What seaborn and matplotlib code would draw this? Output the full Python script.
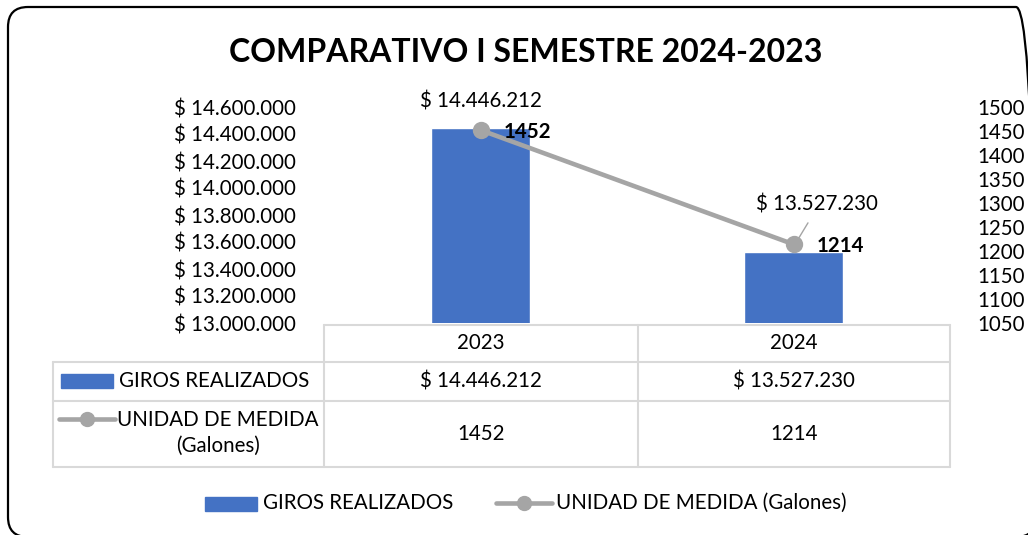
import matplotlib
matplotlib.use("Agg")
import matplotlib.pyplot as plt
import matplotlib.transforms as mtransforms
from matplotlib.patches import FancyBboxPatch, Rectangle
from matplotlib.lines import Line2D
import seaborn as sns
import pandas as pd

# ---------------- data ----------------
years = ["2023", "2024"]
giros = [14446212, 13527230]
galones = [1452, 1214]
left_ticks = [13000000, 13200000, 13400000, 13600000, 13800000,
              14000000, 14200000, 14400000, 14600000]
right_ticks = [1050, 1100, 1150, 1200, 1250, 1300, 1350, 1400, 1450, 1500]
title = "COMPARATIVO I SEMESTRE 2024-2023"
serie_bar = "GIROS REALIZADOS"
serie_line = "UNIDAD DE MEDIDA (Galones)"


def money(v):
    return "$ " + f"{v:,}".replace(",", ".")


sns.set_style("white")
plt.rcParams["font.family"] = ["Lato", "DejaVu Sans"]
plt.rcParams["text.color"] = "black"
plt.rcParams["xtick.color"] = "black"
plt.rcParams["ytick.color"] = "black"

BLUE = "#4472C4"
GRAY = "#A5A5A5"
GRID = "#D9D9D9"
FS = 14.8

W, H = 1028, 535
fig = plt.figure(figsize=(W / 100, H / 100), dpi=100)


def fx(x):
    return x / W


def fy(y):
    return 1 - y / H


df = pd.DataFrame({"year": years, "giros": giros, "galones": galones})

ax = fig.add_axes([fx(324), fy(323), (950 - 324) / W, 216 / H])
sns.barplot(data=df, x="year", y="giros", color=BLUE, saturation=1,
            width=0.316, ax=ax)
ax.set_ylim(left_ticks[0], left_ticks[-1])
ax.set_yticks(left_ticks)
ax.set_yticklabels([money(v) for v in left_ticks], fontsize=FS)
ax.tick_params(axis="y", length=0, pad=20)
ax.set_xticks([])
ax.set_xlabel("")
ax.set_ylabel("")
for s in ax.spines.values():
    s.set_visible(False)

ax2 = ax.twinx()
sns.pointplot(data=df, x="year", y="galones", color=GRAY, ax=ax2,
              markers="o", markersize=10, linewidth=3.3)
ax2.set_ylim(right_ticks[0], right_ticks[-1])
ax2.set_yticks(right_ticks)
ax2.set_yticklabels([str(v) for v in right_ticks], fontsize=FS)
ax2.tick_params(axis="y", length=0, pad=20)
ax2.set_xlim(-0.5, 1.5)
ax2.set_xlabel("")
ax2.set_ylabel("")
for s in ax2.spines.values():
    s.set_visible(False)

# bar data labels
ax.annotate(money(giros[0]), xy=(0, giros[0]), xytext=(0, 26),
            textcoords="offset pixels", ha="center", va="center",
            fontsize=FS, annotation_clip=False)
end_tr = mtransforms.offset_copy(ax.transData, fig=fig, x=3, y=10, units="dots")
ax.annotate(money(giros[1]), xy=(1, giros[1]), xycoords=end_tr,
            xytext=(20, 37), textcoords="offset pixels",
            ha="center", va="center", fontsize=FS, annotation_clip=False,
            arrowprops=dict(arrowstyle="-", color=GRAY, lw=1,
                            relpos=(0.47, 0), shrinkA=4, shrinkB=0))

# line data labels
for i, v in enumerate(galones):
    ax2.annotate(str(v), xy=(i, v), xytext=(23, -2), textcoords="offset pixels",
                 ha="left", va="center", fontsize=FS, fontweight="bold",
                 annotation_clip=False)

# title
fig.text(fx(526), fy(52), title, ha="center", va="center",
         fontsize=23, fontweight="bold")

# ---------------- data table ----------------
def hline(y, x0, x1):
    fig.add_artist(Line2D([fx(x0), fx(x1)], [fy(y), fy(y)],
                          transform=fig.transFigure, color=GRID, lw=1.5))


def vline(x, y0, y1):
    fig.add_artist(Line2D([fx(x), fx(x)], [fy(y0), fy(y1)],
                          transform=fig.transFigure, color=GRID, lw=1.5))


cols = [324, 638, 950]
hline(325, 324, 950)
for y in (362, 401, 467):
    hline(y, 53, 950)
for x in cols:
    vline(x, 325, 467)
vline(53, 362, 467)

centers = [(cols[0] + cols[1]) / 2, (cols[1] + cols[2]) / 2]
for i in range(len(years)):
    fig.text(fx(centers[i]), fy(343), years[i], ha="center", va="center", fontsize=FS)
    fig.text(fx(centers[i]), fy(381), money(giros[i]), ha="center", va="center", fontsize=FS)
    fig.text(fx(centers[i]), fy(434), str(galones[i]), ha="center", va="center", fontsize=FS)

# table legend keys
fig.add_artist(Rectangle((fx(61), fy(388)), (113 - 61) / W, 14 / H,
                         transform=fig.transFigure, color=BLUE))
fig.text(fx(119), fy(381), serie_bar, ha="left", va="center", fontsize=FS)
fig.add_artist(Line2D([fx(59), fx(115)], [fy(419), fy(419)], transform=fig.transFigure,
                      color=GRAY, lw=3.3))
fig.add_artist(Line2D([fx(87)], [fy(419)], transform=fig.transFigure,
                      color=GRAY, marker="o", markersize=10, lw=0))
fig.text(fx(218), fy(433), "UNIDAD DE MEDIDA\n(Galones)", ha="center", va="center",
         fontsize=FS, multialignment="center", linespacing=1.35)

# bottom legend
fig.add_artist(Rectangle((fx(205), fy(511)), (257 - 205) / W, 14 / H,
                         transform=fig.transFigure, color=BLUE))
fig.text(fx(263), fy(503), serie_bar, ha="left", va="center", fontsize=FS)
fig.add_artist(Line2D([fx(496), fx(552)], [fy(503), fy(503)], transform=fig.transFigure,
                      color=GRAY, lw=3.3))
fig.add_artist(Line2D([fx(524)], [fy(503)], transform=fig.transFigure,
                      color=GRAY, marker="o", markersize=10, lw=0))
fig.text(fx(556), fy(503), serie_line, ha="left", va="center", fontsize=FS)

# rounded chart border
border = FancyBboxPatch((8, -2), 1028, 530,
                        boxstyle="round,pad=0,rounding_size=20",
                        transform=mtransforms.IdentityTransform(),
                        facecolor="none", edgecolor="black", lw=1.6, clip_on=False)
fig.add_artist(border)

fig.savefig("out.png", dpi=100)
